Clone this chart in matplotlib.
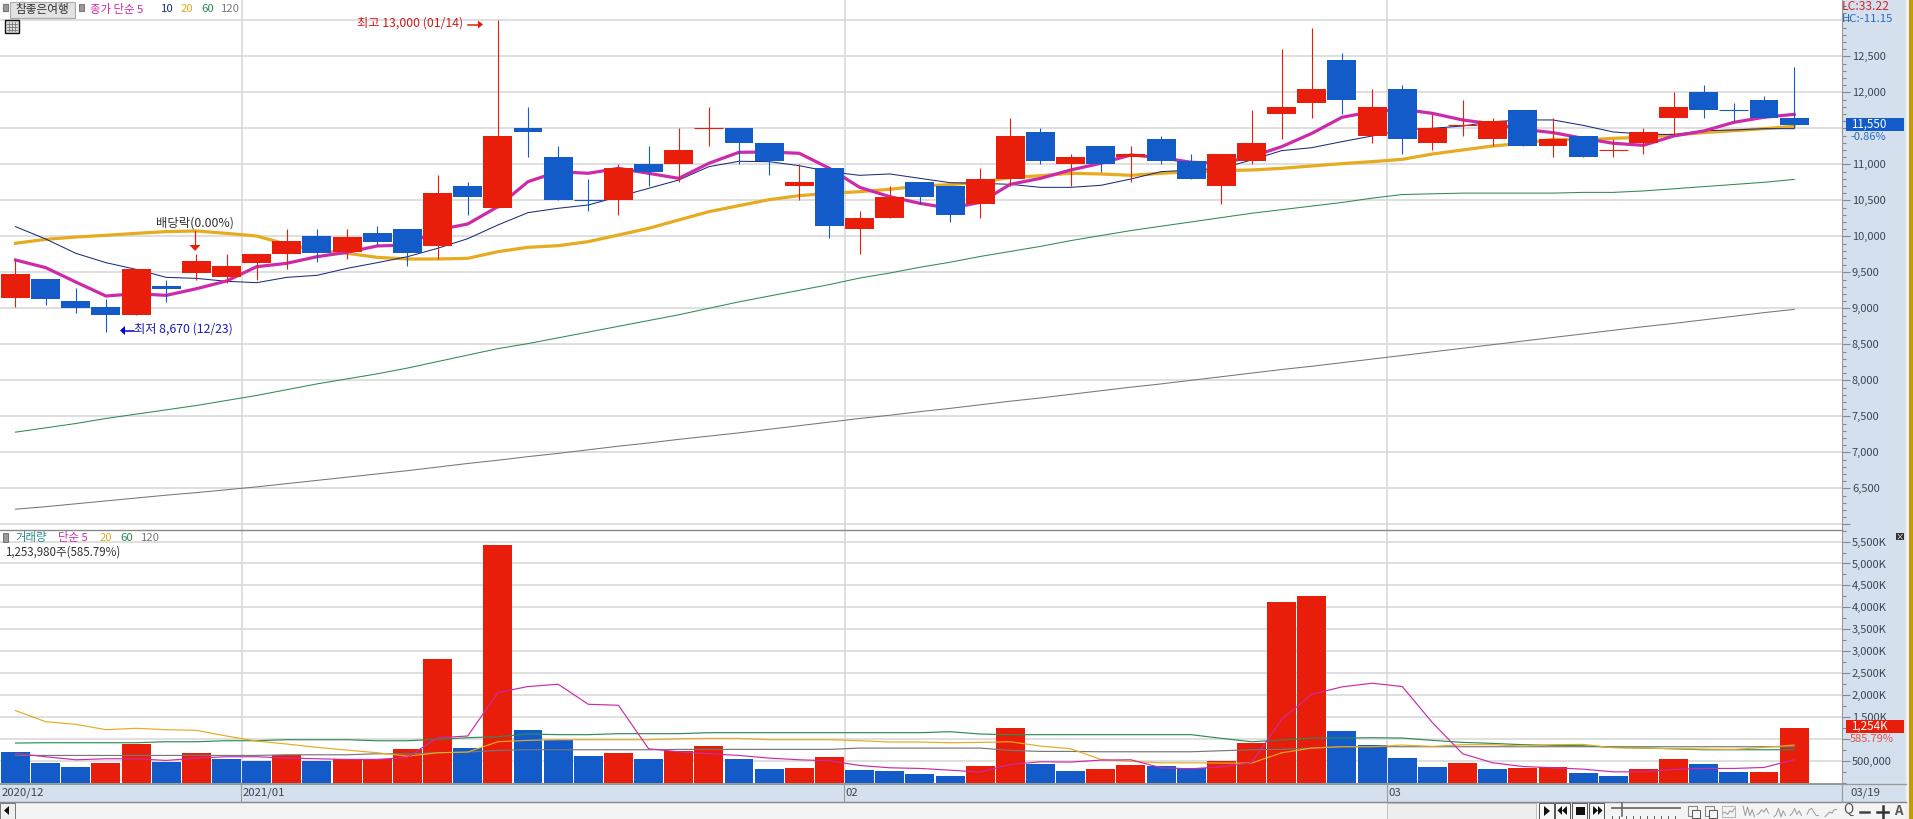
import matplotlib
matplotlib.use('Agg')
import matplotlib.pyplot as plt
from matplotlib.patches import Rectangle, Polygon
from matplotlib.ticker import FixedLocator, FuncFormatter

plt.rcParams['font.family'] = ['Noto Sans CJK KR', 'DejaVu Sans']

W, H = 1913, 819

# ---- price data, won ----
opens = [9150, 9410, 9100, 9020, 8910, 9310, 9490, 9440, 9630, 9750, 10000, 9780, 10050, 10100, 9860,
         10700, 10400, 11500, 11100, 10500, 10500, 11000, 11000, 11500, 11500, 11300, 10700, 10950, 10100, 10250,
         10750, 10700, 10450, 10800, 11450, 11000, 11250, 11100, 11350, 11050, 10700, 11050, 11700, 11850, 12450,
         11400, 12050, 11300, 11550, 11350, 11750, 11250, 11400, 11200, 11300, 11650, 12000, 11750, 11900, 11650]
closes = [9480, 9130, 9010, 8910, 9550, 9270, 9660, 9590, 9750, 9940, 9770, 9990, 9920, 9770, 10600,
          10550, 11400, 11450, 10500, 10500, 10950, 10900, 11200, 11500, 11300, 11050, 10750, 10150, 10250, 10550,
          10550, 10300, 10800, 11400, 11050, 11100, 11000, 11150, 11050, 10800, 11150, 11300, 11800, 12050, 11900,
          11800, 11350, 11500, 11550, 11600, 11250, 11350, 11100, 11200, 11450, 11800, 11750, 11750, 11650, 11550]
highs = [9670, 9410, 9280, 9130, 9550, 9390, 9760, 9750, 9750, 10100, 10100, 10100, 10150, 10100, 10850,
         10750, 13000, 11800, 11250, 10800, 11000, 11250, 11500, 11800, 11500, 11300, 11000, 10950, 10350, 10700,
         10750, 10700, 10950, 11650, 11500, 11150, 11250, 11250, 11400, 11150, 11150, 11750, 12600, 12900, 12550,
         12050, 12100, 11700, 11900, 11650, 11750, 11650, 11400, 11350, 11500, 12000, 12100, 11850, 11950, 12350]
lows = [9020, 9040, 8940, 8670, 8910, 9090, 9400, 9350, 9400, 9540, 9650, 9680, 9870, 9590, 9690,
        10300, 10400, 11100, 10500, 10350, 10300, 10700, 10750, 11250, 11000, 10850, 10500, 9970, 9750, 10250,
        10450, 10200, 10250, 10700, 11000, 10700, 10900, 10750, 11000, 10800, 10450, 11000, 11350, 11650, 11700,
        11300, 11150, 11200, 11400, 11250, 11250, 11100, 11100, 11100, 11150, 11400, 11650, 11600, 11650, 11500]
candle_dir = 'rbbbrbrrrrbrbbrbrbbbrbrrbbrbrrbbrrbrbrbbrrrrbrbrrrbrbrrrbbbb'

ma5 = [9671, 9565, 9365, 9171, 9203, 9180, 9272, 9379, 9578, 9625, 9717, 9778, 9866, 9879, 10088,
       10171, 10412, 10759, 10898, 10875, 10944, 10875, 10805, 11014, 11167, 11171, 11153, 10944, 10680, 10551,
       10458, 10389, 10472, 10722, 10805, 10921, 11014, 11130, 11093, 11028, 11014, 11106, 11245, 11430, 11653,
       11731, 11764, 11708, 11616, 11560, 11486, 11440, 11361, 11292, 11264, 11393, 11463, 11583, 11653, 11694]
ma10 = [10134, 9963, 9764, 9634, 9541, 9430, 9416, 9375, 9356, 9430, 9458, 9555, 9634, 9717, 9833,
        9967, 10157, 10329, 10389, 10435, 10551, 10666, 10782, 10967, 11042, 11037, 10981, 10898, 10847, 10866,
        10805, 10745, 10736, 10722, 10680, 10680, 10708, 10796, 10898, 10921, 10944, 11060, 11190, 11231, 11315,
        11393, 11477, 11500, 11532, 11592, 11616, 11616, 11541, 11449, 11421, 11412, 11467, 11477, 11495, 11495]
ma20 = [9903, 9958, 9990, 10014, 10041, 10065, 10074, 10041, 10004, 9889, 9800, 9764, 9708, 9685, 9685,
        9694, 9787, 9847, 9870, 9926, 10018, 10111, 10227, 10342, 10426, 10509, 10565, 10597, 10620, 10653,
        10699, 10717, 10750, 10815, 10842, 10875, 10866, 10847, 10875, 10898, 10912, 10921, 10944, 10977, 11009,
        11037, 11069, 11143, 11199, 11254, 11292, 11347, 11338, 11361, 11375, 11407, 11440, 11467, 11495, 11528]
ma60 = [7280, 7340, 7400, 7470, 7530, 7590, 7650, 7720, 7790, 7870, 7950, 8020, 8090, 8170, 8260,
        8350, 8440, 8510, 8590, 8670, 8750, 8830, 8910, 9000, 9090, 9170, 9250, 9330, 9420, 9490,
        9570, 9640, 9720, 9790, 9860, 9940, 10010, 10080, 10140, 10200, 10260, 10320, 10370, 10420, 10470,
        10530, 10580, 10590, 10600, 10600, 10600, 10600, 10610, 10610, 10630, 10660, 10690, 10720, 10750, 10790]
ma120 = [6210, 6245, 6285, 6325, 6365, 6405, 6440, 6480, 6520, 6565, 6610, 6655, 6700, 6745, 6795,
         6845, 6890, 6940, 6985, 7035, 7085, 7130, 7180, 7225, 7270, 7320, 7370, 7420, 7470, 7515,
         7565, 7610, 7660, 7710, 7755, 7805, 7855, 7905, 7950, 8000, 8050, 8100, 8150, 8195, 8245,
         8295, 8345, 8395, 8445, 8495, 8545, 8595, 8645, 8695, 8745, 8790, 8840, 8890, 8940, 8985]

# ---- volume data, thousand shares ----
volume = [687, 435, 344, 435, 870, 458, 664, 527, 481, 618, 481, 527, 527, 756, 2817,
          779, 5428, 1191, 962, 595, 664, 527, 710, 824, 527, 298, 321, 573, 275, 252,
          183, 160, 366, 1237, 412, 252, 298, 389, 366, 321, 481, 893, 4122, 4260, 1168,
          847, 550, 344, 435, 298, 321, 344, 206, 160, 298, 527, 412, 229, 229, 1254]
vol_dir = 'bbbrrbrbbrbrrrrbrbbbrbrrbbrrbbbbrrbbrrbbrrrrbbbbrbrrbbrrbbrr'
vol_ma5 = [664, 588, 519, 542, 542, 504, 557, 588, 588, 557, 542, 527, 527, 573, 1023,
           1061, 2054, 2191, 2244, 1786, 1763, 771, 702, 657, 618, 557, 519, 496, 389, 336,
           321, 282, 237, 412, 473, 466, 511, 519, 336, 313, 359, 450, 1443, 2015, 2183,
           2267, 2191, 1367, 657, 450, 366, 336, 305, 244, 244, 298, 321, 321, 344, 519]
vol_ma20 = [1641, 1389, 1328, 1206, 1237, 1206, 1191, 1061, 947, 878, 802, 740, 679, 603, 679,
            695, 931, 962, 977, 977, 977, 977, 1000, 1008, 1008, 977, 977, 977, 954, 924,
            924, 908, 916, 931, 832, 771, 527, 481, 450, 450, 443, 443, 679, 786, 817,
            817, 855, 824, 863, 863, 832, 863, 870, 794, 786, 771, 763, 756, 802, 855]
vol_ma60 = [901, 908, 908, 908, 908, 931, 931, 954, 954, 977, 977, 977, 954, 954, 985,
            1023, 1046, 1107, 1092, 1092, 1115, 1115, 1115, 1137, 1137, 1137, 1137, 1137, 1137, 1137,
            1137, 1160, 1107, 1092, 1092, 1092, 1092, 1092, 1092, 1092, 1008, 931, 970, 1015, 1015,
            1023, 1015, 962, 916, 893, 863, 847, 840, 802, 786, 771, 748, 748, 748, 748]
vol_ma120 = [618, 618, 618, 618, 618, 618, 618, 618, 618, 633, 633, 633, 656, 656, 679,
             695, 733, 748, 748, 748, 748, 748, 756, 756, 756, 756, 756, 756, 786, 786,
             786, 786, 786, 733, 710, 710, 702, 702, 702, 702, 725, 748, 756, 786, 817,
             817, 817, 817, 817, 817, 817, 817, 817, 817, 817, 817, 817, 817, 817, 817]

month_pos = [7.5, 27.5, 45.5]
month_labels = ['2021/01', '02', '03']
price_ticks = list(range(6000, 13001, 500))
vol_ticks = list(range(500, 5501, 500))
# these labels sit under the last-value boxes in the reference
price_hidden = [6000, 11500, 13000]
vol_hidden = [1000]

RED = '#e81e0a'
BLUE = '#125bc9'
MAG = '#cc2aaa'
GOLD = '#e6ab1e'
NAVY = '#1b2c7e'
GREEN = '#2e8b57'
GRAY = '#777777'
GRID = '#d6d6d6'
PANEL = '#d5e0ef'
TXT = '#3c4650'

fig = plt.figure(figsize=(W / 100, H / 100), dpi=100, facecolor='#f4f4f4')


def px_axes(x0, y0, x1, y1, **kw):
    return fig.add_axes([x0 / W, 1 - y1 / H, (x1 - x0) / W, (y1 - y0) / H], **kw)


def label(x, y, s, color=TXT, size=8.0, ha='left', **kw):
    return fig.text(x / W, 1 - y / H, s, color=color, fontsize=size, ha=ha, va='center', **kw)


def box(x0, y0, x1, y1, fc, ec='none', lw=0.7, z=5):
    fig.add_artist(Rectangle((x0 / W, 1 - y1 / H), (x1 - x0) / W, (y1 - y0) / H, fc=fc, ec=ec, lw=lw,
                             transform=fig.transFigure, zorder=z))


def hline(x0, x1, y, color, lw=0.8, z=6):
    fig.add_artist(plt.Line2D([x0 / W, x1 / W], [1 - y / H, 1 - y / H], color=color, lw=lw, zorder=z))


def vline(x, y0, y1, color, lw=0.8, z=6):
    fig.add_artist(plt.Line2D([x / W, x / W], [1 - y0 / H, 1 - y1 / H], color=color, lw=lw, zorder=z))


def tri(points, color, z=7):
    fig.add_artist(Polygon([(x / W, 1 - y / H) for x, y in points], closed=True, fc=color, ec='none',
                           transform=fig.transFigure, zorder=z))


xlim = (-0.514, 60.57)
ax = px_axes(0, 0, 1841.5, 529.5)
ax_v = px_axes(0, 529.5, 1841.5, 784)
n = len(closes)
xs = list(range(n))

for a in (ax, ax_v):
    a.set_xlim(*xlim)
    a.set_xticks(month_pos)
    a.tick_params(axis='x', length=0, labelbottom=False)
    a.grid(True, color=GRID, lw=1.1, zorder=0)
    a.set_axisbelow(True)
    a.yaxis.tick_right()
    a.tick_params(axis='y', which='both', direction='out', color='#888888', width=0.8,
                  labelsize=8.0, labelcolor=TXT, pad=1.5)
    a.tick_params(axis='y', which='major', length=6)
    a.tick_params(axis='y', which='minor', length=3)
    for s in ('top', 'left'):
        a.spines[s].set_visible(False)
    a.spines['right'].set_color('#999999')
    a.spines['bottom'].set_color('#888888')
ax.spines['bottom'].set_visible(False)
ax_v.spines['bottom'].set_linewidth(1.2)

# price pane
ax.set_ylim(5928, 13282)
ax.set_yticks(price_ticks)
ax.set_yticklabels(['' if t in price_hidden else f'{t:,}' for t in price_ticks])
ax.yaxis.set_minor_locator(FixedLocator(range(6000, 13300, 100)))

ax.plot(xs, ma120, color=GRAY, lw=0.75, zorder=2)
ax.plot(xs, ma60, color=GREEN, lw=0.75, zorder=2)
ax.plot(xs, ma20, color=GOLD, lw=2.3, zorder=2)
ax.plot(xs, ma10, color=NAVY, lw=0.75, zorder=2)
ax.plot(xs, ma5, color=MAG, lw=2.3, zorder=2)

for i in xs:
    c = RED if candle_dir[i] == 'r' else BLUE
    ax.vlines(i, lows[i], highs[i], color=c, lw=0.8, zorder=3)
    lo = min(opens[i], closes[i])
    hi = max(opens[i], closes[i])
    if hi == lo:
        ax.hlines(hi, i - 0.48, i + 0.48, color=c, lw=0.8, zorder=4)
    else:
        ax.bar(i, hi - lo, bottom=lo, width=0.96, color=c, lw=0, zorder=4)

# volume pane
ax_v.set_ylim(-34, 5776)
ax_v.set_yticks(vol_ticks)
ax_v.yaxis.set_major_formatter(FuncFormatter(
    lambda v, p: '' if v in vol_hidden else ('500,000' if v == 500 else f'{int(v):,}K')))
ax_v.yaxis.set_minor_locator(FixedLocator(range(0, 5800, 250)))
ax_v.bar(xs, volume, width=0.96, color=[RED if d == 'r' else BLUE for d in vol_dir], lw=0, zorder=2)
ax_v.plot(xs, vol_ma120, color=GRAY, lw=0.85, zorder=3)
ax_v.plot(xs, vol_ma60, color=GREEN, lw=0.85, zorder=3)
ax_v.plot(xs, vol_ma20, color=GOLD, lw=0.85, zorder=3)
ax_v.plot(xs, vol_ma5, color=MAG, lw=0.85, zorder=3)

# right side panel, date strip, tool bar
box(1841.5, 0, 1906, 802, PANEL, z=-1)
box(1906, 0, 1909, 819, '#f0f0f0', z=-1)
box(1909, 0, 1913, 819, '#c49a0c', z=9)
box(0, 784, 1841.5, 802, PANEL, z=-1)
hline(0, 1906, 802, '#888888', lw=1.0)
hline(0, 1841.5, 529.5, '#888888', lw=1.0)
hline(1841.5, 1906, 784, '#999999', lw=0.9)
vline(1841.5, 784, 802, '#999999')
vline(241.2, 784, 802, '#999999')
vline(844.4, 784, 802, '#999999')
vline(1387.3, 784, 802, '#999999')
label(2, 793, '2020/12', size=8.2)
for p, t in zip(month_pos, month_labels):
    label(15.5 + 30.14 * p + 1.5, 793, t, size=8.2)
label(1850, 793, '03/19', size=8.2)

# price pane text
box(1, 2, 9, 13, '#f4f4f4', z=4)
box(3, 4, 7.5, 11, '#999999', ec='#666666', lw=0.6)
box(10, 2, 75, 18, '#e2e2e2', ec='#aaaaaa', lw=0.8)
label(42.5, 10, '참좋은여행', color='#333333', size=8.4, ha='center', zorder=7)
box(79, 4, 84, 11, '#999999', ec='#666666', lw=0.6)
label(90, 9.5, '종가 단순 5', color=MAG, size=8.2)
label(161, 9.5, '10', color=NAVY, size=8.2)
label(181, 9.5, '20', color=GOLD, size=8.2)
label(201, 9.5, '60', color=GREEN, size=8.2)
label(221, 9.5, '120', color=GRAY, size=8.2)
box(5, 20, 19, 33, '#dddddd', ec='#111111', lw=1.0)
for gx in (9, 12, 15):
    vline(gx, 22, 31, '#777777', lw=0.6)
for gy in (24, 27, 30):
    hline(7, 17, gy, '#777777', lw=0.6)

label(1842, 7, 'LC:33.22', color='#cc2a2a', size=8.7, zorder=8)
label(1842, 19, 'HC:-11.15', color='#2a6ac0', size=8.2, zorder=8)
box(1846, 118, 1904, 131, BLUE, z=7)
label(1851, 124.5, '11,550', color='white', size=8.4, zorder=8)
label(1850, 137, '-0.86%', color='#2a6ac0', size=8.0, zorder=8)

label(195, 223, '배당락(0.00%)', color='#333333', size=8.9, ha='center')
vline(195, 231, 244, RED, lw=0.9)
tri([(189.5, 245), (200.5, 245), (195, 251)], RED)
label(357, 23, '최고 13,000 (01/14)', color='#d11a1a', size=8.8)
hline(468, 481, 24.5, RED, lw=1.1)
tri([(478, 20.5), (478, 28.5), (483, 24.5)], RED)
label(134, 329, '최저 8,670 (12/23)', color='#1a1ab0', size=8.8)
hline(124, 134, 330.5, '#0000dd', lw=1.1)
tri([(120, 330.5), (125, 326), (125, 335)], '#0000dd')

# volume pane text
box(3, 533, 7.5, 542, '#999999', ec='#666666', lw=0.6)
label(15, 538, '거래량', color='#2d8a8f', size=8.2)
label(58, 538, '단순 5', color=MAG, size=8.2)
label(100, 538, '20', color=GOLD, size=8.2)
label(120, 538, '60', color=GREEN, size=8.2)
label(141, 538, '120', color=GRAY, size=8.2)
label(5, 552, '1,253,980주(585.79%)', color='#333333', size=8.3)
box(1896, 533, 1904, 540, '#333333', z=7)
label(1900, 536.5, '×', color='white', size=6, ha='center', zorder=8)
box(1846, 720, 1904, 733, RED, z=7)
label(1851, 726.5, '1,254K', color='white', size=8.4, zorder=8)
label(1850, 739, '585.79%', color='#e4504a', size=8.0, zorder=8)

# tool bar
box(0, 803, 15, 819, '#efefef', ec='#777777', lw=0.7)
tri([(9, 806), (9, 815), (4, 810.5)], '#111111')
box(1387, 803, 1536, 819, '#eeeeee', ec='#bbbbbb', lw=0.6)
for bx in (1539, 1555, 1572, 1589):
    box(bx, 803, bx + 15, 819, '#f6f6f6', ec='#555555', lw=0.7)
tri([(1544, 806), (1544, 816), (1550, 811)], '#111111')
tri([(1567, 806), (1567, 815), (1562, 810.5)], '#111111')
tri([(1562, 806), (1562, 815), (1557.5, 810.5)], '#111111')
box(1576, 807, 1585, 815, '#111111', z=7)
tri([(1593, 806), (1593, 815), (1598, 810.5)], '#111111')
tri([(1598, 806), (1598, 815), (1602.5, 810.5)], '#111111')
hline(1612, 1680, 808, '#777777', lw=1.4)
vline(1622, 803, 816, '#666666', lw=1.2)
for tx in range(1612, 1682, 7):
    vline(tx, 816, 819, '#444444', lw=0.6)
for ix in (1688, 1705):
    box(ix, 806, ix + 9, 816, '#f4f4f4', ec='#888888', lw=0.8)
    box(ix + 4, 810, ix + 12, 818, '#f4f4f4', ec='#555555', lw=0.7, z=6)
box(1722, 806, 1735, 817, 'none', ec='#aaaaaa', lw=0.6)
for ix, pts in ((1723, [6, 5, 7, 4, 5, 2]), (1743, [0, 8, 1, 8, 3, 9]), (1757, [7, 6, 3, 5, 2, 6]),
                (1774, [9, 7, 2, 9, 4, 8]), (1790, [8, 6, 2, 7, 4, 8]), (1807, [7, 3, 2, 5, 8, 8]),
                (1825, [9, 7, 5, 6, 3, 3])):
    fig.add_artist(plt.Line2D([(ix + j * 2.3) / W for j in range(len(pts))],
                              [1 - (806 + p * 1.2) / H for p in pts], color='#999999', lw=0.7, zorder=6))
label(1848, 810, 'Q', color='#555555', size=10, ha='center', zorder=7)
hline(1860, 1869, 812, '#444444', lw=1.8)
hline(1877, 1888, 812, '#333333', lw=1.8)
vline(1882.5, 806, 817.5, '#333333', lw=1.8)
label(1898.5, 811, 'A', color='#555555', size=9.5, ha='center', weight='bold', zorder=7)

fig.savefig('out.png', dpi=100, facecolor=fig.get_facecolor())
